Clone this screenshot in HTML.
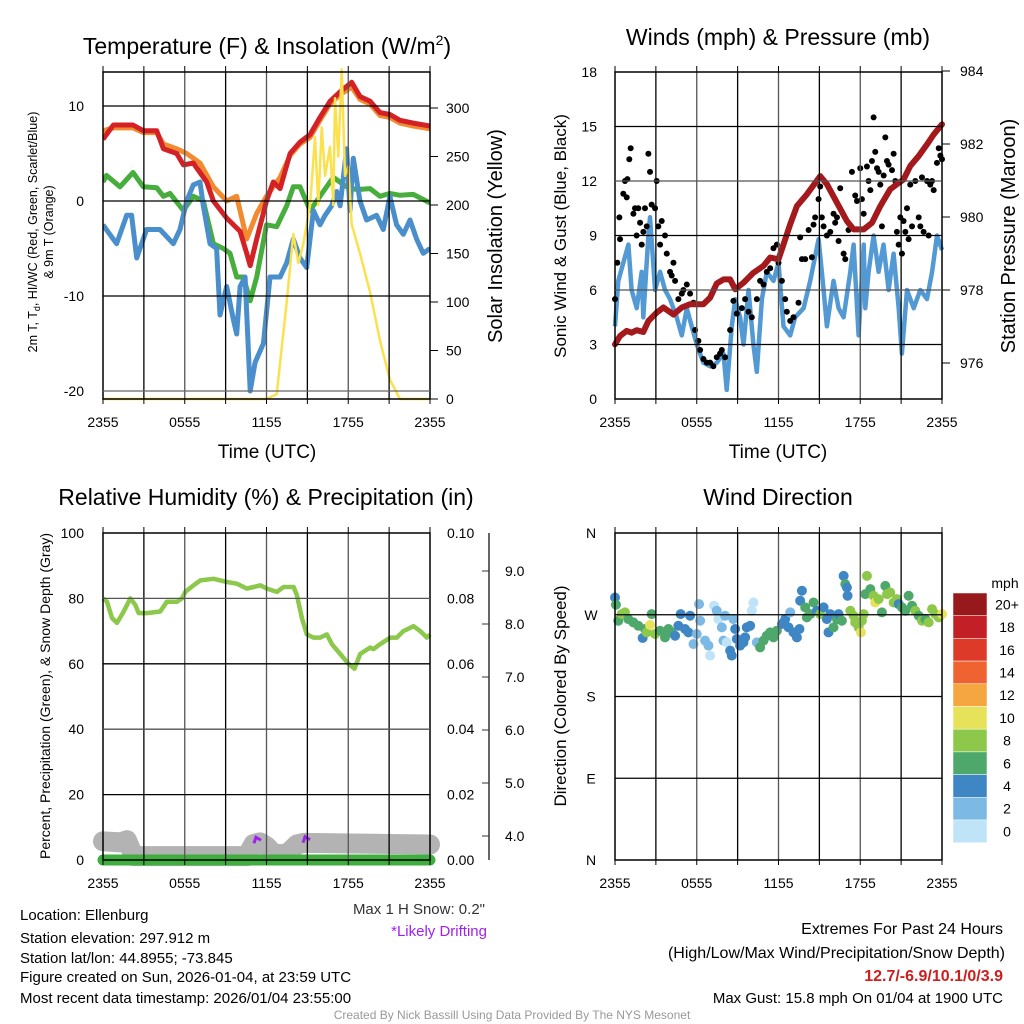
<!DOCTYPE html>
<html><head><meta charset="utf-8">
<style>
html,body{margin:0;padding:0;background:#fff;}
svg{display:block;font-family:"Liberation Sans",sans-serif;}
</style></head>
<body>
<svg id="chart" width="1024" height="1024" viewBox="0 0 1024 1024" xmlns="http://www.w3.org/2000/svg">
<rect x="0" y="0" width="1024" height="1024" fill="#fff"/>
<g id="layer-data"></g>
<g id="layer-axes"></g>

<text x="267" y="54" font-size="23" text-anchor="middle">Temperature (F) &amp; Insolation (W/m<tspan dy="-9" font-size="14">2</tspan><tspan dy="9">)</tspan></text>
<text x="778" y="45" font-size="23" text-anchor="middle">Winds (mph) &amp; Pressure (mb)</text>
<text x="266" y="505" font-size="23" text-anchor="middle">Relative Humidity (%) &amp; Precipitation (in)</text>
<text x="778" y="505" font-size="23" text-anchor="middle">Wind Direction</text>

<text x="267" y="458" font-size="19" text-anchor="middle">Time (UTC)</text>
<text x="778" y="458" font-size="19" text-anchor="middle">Time (UTC)</text>

<text transform="translate(37,232) rotate(-90)" font-size="12.5" text-anchor="middle">2m T, T<tspan font-size="9" dy="3">d</tspan><tspan dy="-3">, HI/WC (Red, Green, Scarlet/Blue)</tspan></text>
<text transform="translate(53,232) rotate(-90)" font-size="12.5" text-anchor="middle">&amp; 9m T (Orange)</text>
<text transform="translate(502,236) rotate(-90)" font-size="20" text-anchor="middle">Solar Insolation (Yellow)</text>
<text transform="translate(566,236) rotate(-90)" font-size="17" text-anchor="middle">Sonic Wind &amp; Gust (Blue, Black)</text>
<text transform="translate(1015,236) rotate(-90)" font-size="20" text-anchor="middle">Station Pressure (Maroon)</text>
<text transform="translate(50,696) rotate(-90)" font-size="14" text-anchor="middle">Percent, Precipitation (Green), &amp; Snow Depth (Gray)</text>
<text transform="translate(566,696) rotate(-90)" font-size="17" text-anchor="middle">Direction (Colored By Speed)</text>

<text x="1005" y="588" font-size="14" text-anchor="middle">mph</text>

<g font-size="15">
<text x="20" y="920">Location: Ellenburg</text>
<text x="20" y="943">Station elevation: 297.912 m</text>
<text x="20" y="963">Station lat/lon: 44.8955; -73.845</text>
<text x="20" y="982">Figure created on Sun, 2026-01-04, at 23:59 UTC</text>
<text x="20" y="1003">Most recent data timestamp: 2026/01/04 23:55:00</text>
</g>
<text x="485" y="914" font-size="15" text-anchor="end" fill="#333">Max 1 H Snow: 0.2"</text>
<text x="487" y="936" font-size="15" text-anchor="end" fill="#a020f0">*Likely Drifting</text>
<text x="1003" y="934" font-size="16" text-anchor="end">Extremes For Past 24 Hours</text>
<text x="1005" y="958" font-size="16" text-anchor="end">(High/Low/Max Wind/Precipitation/Snow Depth)</text>
<text x="1003" y="981" font-size="16" font-weight="bold" text-anchor="end" fill="#cc1f1f">12.7/-6.9/10.1/0/3.9</text>
<text x="1003" y="1003" font-size="15" text-anchor="end">Max Gust: 15.8 mph On 01/04 at 1900 UTC</text>
<text x="512" y="1019" font-size="12" text-anchor="middle" fill="#999">Created By Nick Bassill Using Data Provided By The NYS Mesonet</text>
</svg>

<script>
// ---------- data ----------
const xTickLabels = ["2355","0555","1155","1755","2355"];
const tempTicks = [-20,-10,0,10];
const solarTicks = [0,50,100,150,200,250,300];
const windTicks = [0,3,6,9,12,15,18];
const presTicks = [976,978,980,982,984];
const rhTicks = [0,20,40,60,80,100];
const precipTicks = ["0.00","0.02","0.04","0.06","0.08","0.10"];
const snowTicks = [4,5,6,7,8,9];
const dirTicks = ["N","E","S","W","N"];
const speedBins = ["0","2","4","6","8","10","12","14","16","18","20+"];
const speedColors = ["#bfe4f7","#7cb9e4","#3f86c5","#4ea86c","#8ec84b","#e6e35a","#f6a640","#ee6330","#dd3a2a","#c21f26","#98191b"];

const tHoursRed = [0,0.76,2.2,2.96,3.94,4.43,5.41,5.9,6.63,7.61,8.1,9.08,10.06,10.55,10.8,11.28,12.0,12.5,13.0,13.73,14.46,15.2,15.93,16.66,17.4,18.25,18.86,19.6,20.33,21.06,21.8,22.77,24];
const tempRed = [6.5,8,8,7.4,7.4,5.5,5,3.8,4,2,0,-1.8,-3.2,-5.5,-6.8,-4,0,2,1.3,5,6.2,7,8.8,10.5,11.5,12.5,11,10.5,9.3,9.1,8.5,8.2,7.9];
const tHoursOrange = [0,0.76,2.2,2.96,3.94,4.43,5.41,6.14,7.12,8.1,9.08,9.81,10.55,11.28,12.0,13.0,13.73,14.46,15.2,15.93,16.66,17.4,18.25,18.86,19.6,20.33,21.06,21.8,22.77,24];
const temp9m = [7.4,7.7,7.7,7.2,7.2,6,5.5,5,4,1.5,0,0.5,-4,-1.3,0.5,2.5,4.8,6,6.7,8.5,10.2,11.2,12,10.7,10.2,9,8.8,8.2,7.9,7.6];
const tHoursGreen = [0,0.26,1.25,2.2,2.96,3.94,4.43,4.92,5.9,6.63,7.36,8.1,8.83,9.32,9.81,10.3,10.8,11.28,12.0,12.75,13.48,13.97,14.46,15.2,16.17,16.9,17.88,18.62,19.6,20.33,21.06,21.8,22.77,24];
const tempGreen = [2,2.7,1.5,3,1.5,1.4,0.5,0.8,-1,0.5,0,-4.5,-5,-5.5,-8,-8,-10.5,-8,-2.5,-2.7,-0.5,1.5,1.5,-1,1,2.5,1.5,1.2,1.3,0.5,0.8,0.6,0.7,-0.2];
const tHoursBlue = [0,0.5,1.0,1.74,2.1,2.47,3.2,4.18,5.16,5.65,6.14,6.63,7.12,7.36,7.85,8.34,8.59,9.08,9.57,9.81,10.06,10.43,10.8,11.16,11.77,12.26,13.0,13.48,13.97,14.46,14.95,15.44,15.93,16.3,16.78,17.15,17.4,17.88,18.13,18.37,18.86,19.35,20.08,20.57,21.06,21.55,22.04,22.53,23.02,23.5,24];
const tempBlue = [-2.5,-3.5,-4.5,-1.5,-1.5,-6,-3,-3,-4.5,-3,0,1.7,2,-0.5,-4.5,-5,-12,-9,-12.5,-14,-9,-8,-20,-17,-15,-8,-8,-6.5,-4,-6,-7,-1,-2.5,-1.5,-0.5,1,-0.5,5.5,-1,4.5,0,-2,-1.5,-3,0.5,-2.5,-3.5,-2,-4,-5.5,-5];
const tHoursSolar = [0,12.0,12.75,13.48,13.97,14.34,14.7,15.2,15.56,15.8,16.05,16.3,16.66,16.9,17.03,17.27,17.52,17.76,18.0,18.25,18.86,19.6,20.33,21.06,21.8,24];
const solar = [0,0,5,100,170,140,160,200,270,200,280,230,260,200,310,250,340,230,240,180,150,110,60,20,0,0];

const wHours = [0,0.24,0.61,0.98,1.22,1.59,1.96,2.08,2.45,2.57,2.94,3.31,3.67,4.04,4.53,4.9,5.27,5.63,6.0,6.49,6.98,7.47,7.96,8.2,8.57,8.82,9.18,9.43,9.8,10.16,10.41,10.78,11.14,11.63,12.0,12.37,12.86,13.22,13.84,14.33,14.94,15.31,15.55,16.04,16.41,16.78,17.27,17.51,17.88,18.25,18.37,18.61,18.98,19.35,19.71,20.08,20.45,20.82,21.06,21.43,21.92,22.41,22.9,23.27,23.63,24];
const windSpeed = [4,6.5,7.5,8.5,6,5,7,4.5,9,10,6,7,6,5.5,4.5,3.5,5,4,3,2,1.8,2,2.5,0.5,4,5.5,4.5,3,6,3,1.5,5.5,7,6.5,7.5,4,3.5,4.5,5,6.5,8.8,6,4,6.5,5,4.5,7,8.5,3.5,8.5,5,7,9,7,8.5,6,8,5,2.5,6,5,6,5.5,7,9,8.2];
const gHours = [0,0.17,0.37,0.32,0.61,0.73,0.86,0.91,1.05,1.15,1.35,1.47,1.59,1.71,1.84,1.96,2.08,2.2,2.33,2.45,2.57,2.69,2.94,3.06,3.18,3.31,3.43,3.67,3.8,4.04,4.16,4.29,4.41,4.65,4.9,5.02,5.27,5.51,5.76,5.88,6.12,6.25,6.49,6.74,6.98,7.22,7.47,7.71,7.84,8.08,8.45,8.69,8.94,9.31,9.55,9.8,10.04,10.41,10.65,10.9,11.14,11.39,11.63,11.88,12.0,12.25,12.49,12.61,12.86,13.1,13.47,13.59,13.72,13.96,14.21,14.45,14.57,14.69,14.94,15.06,15.18,15.31,15.55,15.8,16.04,16.16,16.29,16.53,16.41,16.78,16.9,17.14,17.39,17.63,17.76,18.0,18.12,18.25,18.49,18.61,18.74,18.86,18.98,19.1,19.23,19.35,19.47,19.59,19.72,19.84,19.96,20.08,20.33,20.45,20.57,20.69,20.82,20.94,21.06,21.18,21.31,21.43,21.55,21.67,21.8,22.04,22.29,22.41,22.53,22.65,22.9,23.02,23.14,23.27,23.39,23.63,23.76,23.88,24];
const gustSpeed = [5.5,7.5,8.8,10.0,11.3,12.0,11.1,12.1,13.2,13.8,10.2,10.5,9.0,10.5,9.7,8.5,9.2,10.5,9.5,13.5,12.5,10.7,10.5,12.0,9.5,8.5,9.8,9.0,8.0,7.0,6.8,7.5,6.5,5.5,5.8,6.0,6.3,5.8,5.3,3.8,3.2,2.7,2.2,2.0,2.0,1.8,2.3,2.5,2.7,2.3,3.8,5.4,4.7,5.0,5.5,4.8,4.5,5.5,6.5,6.3,7.0,7.2,8.3,8.5,7.5,6.5,5.5,4.8,4.3,4.5,5.3,8.9,7.7,7.7,9.3,7.8,9.6,10.0,11.0,11.7,10.0,9.5,9.0,9.2,10.2,9.7,10.0,11.6,8.7,8.0,7.7,9.3,12.5,11.2,10.9,12.7,11.0,10.2,12.8,12.0,11.5,13.1,15.5,13.6,12.7,12.5,11.8,9.5,12.3,14.4,13.1,12.9,12.6,13.5,12.0,9.2,8.5,10.0,8.0,9.8,9.2,10.5,8.8,11.8,9.5,12.0,10.0,9.5,12.2,9.2,12.0,9.0,11.8,12.0,11.5,13.0,13.8,13.4,13.2];
const pHours = [0,0.37,0.86,1.22,1.59,2.08,2.45,3.06,3.55,4.29,4.9,5.51,6.49,6.98,7.47,7.96,8.45,8.82,9.43,10.16,10.9,11.39,12.0,12.37,12.86,13.35,14.08,15.06,15.55,16.29,17.02,17.51,18.25,18.86,19.47,20.2,20.69,21.18,21.67,22.29,22.9,23.39,24];
const pressure = [976.51,976.74,976.88,976.83,976.9,976.85,977.15,977.38,977.52,977.33,977.52,977.61,977.61,977.79,978.18,978.29,978.29,978.02,978.2,978.47,978.66,978.89,978.84,979.25,979.8,980.3,980.62,981.12,980.9,980.39,979.89,979.66,979.66,979.84,980.3,980.76,980.9,981.03,981.4,981.67,981.99,982.26,982.54];

const rhHours = [0,0.29,0.66,1.03,1.52,2.0,2.37,2.62,3.23,4.2,4.69,5.43,5.8,6.04,6.65,7.14,8.12,9.1,9.83,10.56,11.05,11.54,12.03,12.76,13.25,13.99,14.23,14.6,14.96,15.45,15.94,16.43,16.8,17.41,18.02,18.46,18.88,19.61,19.85,20.34,21.08,21.56,22.05,22.79,23.28,23.77,24];
const rh = [80,79,74,72.5,76,80,78,75.5,75.5,76,79,79,80,82,84,85.5,86,85,84.5,83,83.5,84,83,82,83.5,83.5,81,74,69,68,68,69,66,63,60,58.5,63,65,64.5,66,68,68,70,71.5,70,68,69];
const snowHours = [0,1.27,1.76,2.25,10.56,11.05,11.54,12.03,12.52,13.5,14.23,14.72,24];
const snowDepth = [3.9,3.88,3.92,3.62,3.62,3.85,3.88,3.8,3.66,3.66,3.84,3.87,3.84];
const precipHours = [0,24];
const precip = [0,0];
const driftHours = [11.3,14.9];
const driftDepth = [3.92,3.93];

const dHours = [0,0.07,0.24,0.49,0.73,0.98,1.35,1.71,2.03,2.2,2.33,2.57,2.94,2.69,3.31,3.67,3.92,4.16,4.41,4.65,4.82,5.14,5.51,5.39,5.76,6.0,6.17,6.25,6.61,6.86,6.98,7.27,7.47,7.59,7.84,7.96,8.08,8.2,8.45,8.57,8.69,8.82,8.94,9.18,9.43,9.55,9.67,9.92,10.04,10.16,10.41,10.65,10.9,11.14,11.39,11.63,11.88,12.25,12.49,12.74,12.86,13.1,13.35,13.54,13.59,13.72,13.96,14.08,14.33,14.57,14.82,15.06,15.31,15.55,15.67,15.8,16.04,16.29,16.41,16.65,16.78,16.9,17.02,17.07,17.27,17.51,17.63,17.88,18.05,18.12,18.25,18.37,18.49,18.74,18.98,19.1,19.35,19.59,19.84,19.96,20.2,20.45,20.69,20.82,21.06,21.31,21.55,21.8,22.04,22.29,22.53,22.78,23.02,23.27,23.51,23.76,24];
const dDir = [289,281,263.4,270.7,272.6,265.2,261.6,257.9,244.4,254.3,250.6,258.7,248.8,270.7,252.4,245.1,254.3,250.6,246.9,257.9,270.7,254.3,268.9,250.6,237.8,248.8,281.7,263.4,241.5,236,225,279.9,274.4,265.2,256.1,241.5,268.9,239.6,230.5,225,265.2,254.3,243.3,236,239.6,245.1,256.1,257.9,274.4,283.5,239.6,234.1,241.5,246.9,250.6,245.1,252.4,259.8,265.2,256.1,272.6,250.6,245.1,254.3,285.4,296.4,278.1,267.1,270.7,283.5,274.4,270.7,278.1,265.2,250.6,270.7,256.1,265.2,270.7,263.4,312.8,303.7,300,290.9,274.4,268.9,261.6,256.1,250.6,263.4,270.7,292.7,312.8,298.2,290.9,283.5,287.2,272.6,301.8,292.7,294.5,283.5,287.2,281.7,278.1,274.4,290.9,279.9,274.4,268.9,263.4,265.2,261.6,276.2,270.7,267.1,270.7];
const dSpeed = [4,6.5,6.5,8,8,6.5,6.5,6.5,4,6.5,8,10,8,6.5,6.5,6.5,6.5,6.5,4,4,4,4,4,4,2.5,2.5,2.5,2.5,2.5,2.5,1,1,2.5,1,2.5,2.5,2.5,1,4,4,2.5,4,4,4,4,4,4,4,1,1,2.5,6.5,6.5,6.5,6.5,6.5,6.5,4,4,4,2.5,4,4,4,4,4,6.5,6.5,6.5,6.5,4,8,4,4,4,4,6.5,6.5,4,6.5,4,6.5,4,4,8,8,8,8,10,8,8,6.5,8,6.5,8,10,8,6.5,6.5,8,8,8,8,4,6.5,6.5,6.5,6.5,8,6.5,8,6.5,8,8,8,8,10,8];

// ---------- helpers ----------
const NS = "http://www.w3.org/2000/svg";
const dataLayer = document.getElementById("layer-data");
const axesLayer = document.getElementById("layer-axes");
function mk(parent, tag, attrs){
  const e = document.createElementNS(NS, tag);
  for (const k in attrs) e.setAttribute(k, attrs[k]);
  parent.appendChild(e);
  return e;
}
function linScale(d0,d1,r0,r1){ return v => r0 + (v-d0)/(d1-d0)*(r1-r0); }
function pathFrom(xs, ys, sx, sy){
  let d = "";
  for (let i=0;i<xs.length;i++) d += (i?"L":"M") + sx(xs[i]).toFixed(1) + "," + sy(ys[i]).toFixed(1);
  return d;
}
function txt(parent, x, y, s, size, anchor){
  const t = mk(parent, "text", {x:x, y:y, "font-size":size, "text-anchor":anchor||"middle"});
  t.textContent = s;
  return t;
}

function frame(L,T,R,B,nameBase){
  const g = mk(axesLayer, "g", {});
  
  
  const xs = linScale(0,24,L,R);
  for (let h=0; h<=24; h+=3){
    if (h>0 && h<24){
      const l = mk(g, "line", {x1:xs(h), x2:xs(h), y1:T, y2:B, stroke:(h%6===0?"#555":"#000"), "stroke-width":1.3});
      
      
    }
    const tk = mk(g, "line", {x1:xs(h), x2:xs(h), y1:T-6, y2:T, stroke:"#000", "stroke-width":1});
    
    
    const bk = mk(g, "line", {x1:xs(h), x2:xs(h), y1:B, y2:B+5, stroke:"#000", "stroke-width":1});
    
    
  }
  const r = mk(g, "rect", {x:L, y:T, width:R-L, height:B-T, fill:"none", stroke:"#000", "stroke-width":1.5});
  
  
  xTickLabels.forEach((s,i)=>{
    const t = txt(g, xs(i*6), B+28, s, 14);
    
    
  });
  return {g, xs};
}
function hgrid(g, L, R, y, color, nameBase){
  const l = mk(g, "line", {x1:L, x2:R, y1:y, y2:y, stroke:color, "stroke-width":1.3});
  
  
}

// ---------- Panel 1: Temperature ----------
(function(){
  const L=103,T=72,R=430,B=399;
  const f = frame(L,T,R,B,"temp");
  const xs = f.xs;
  const ys = linScale(-20,10,391,106);
  const ss = linScale(0,300,399,108);
  tempTicks.forEach(v=>{
    hgrid(f.g, L, R, ys(v), v===-20?"#666":"#000", "temp");
    const t = txt(f.g, 84, ys(v)+5, String(v), 14, "end");
    
    
  });
  solarTicks.forEach(v=>{
    const tk = mk(f.g, "line", {x1:R, x2:R+8, y1:ss(v), y2:ss(v), stroke:"#000"});
    
    
    const t = txt(f.g, 446, ss(v)+5, String(v), 14, "start");
    
    
  });
  const clip = mk(dataLayer, "clipPath", {id:"clip1"});
  mk(clip, "rect", {x:L, y:T-10, width:R-L, height:B-T+12});
  const g = mk(dataLayer, "g", {"clip-path":"url(#clip1)"});
  const sOr = mk(g, "path", {d:pathFrom(tHoursOrange,temp9m,xs,ys), fill:"none", stroke:"#f28a30", "stroke-width":5, "stroke-linejoin":"round"});
  
  
  const sRed = mk(g, "path", {d:pathFrom(tHoursRed,tempRed,xs,ys), fill:"none", stroke:"#d42126", "stroke-width":5, "stroke-linejoin":"round"});
  
  
  const sGr = mk(g, "path", {d:pathFrom(tHoursGreen,tempGreen,xs,ys), fill:"none", stroke:"#47ad3c", "stroke-width":5, "stroke-linejoin":"round"});
  
  
  const sBl = mk(g, "path", {d:pathFrom(tHoursBlue,tempBlue,xs,ys), fill:"none", stroke:"#4a8fcb", "stroke-width":5, "stroke-linejoin":"round"});
  
  
  const sSo = mk(g, "path", {d:pathFrom(tHoursSolar,solar,xs,ss), fill:"none", stroke:"#fbe14e", "stroke-width":2.5, "stroke-linejoin":"round"});
  
  
})();

// ---------- Panel 2: Winds ----------
(function(){
  const L=615,T=72,R=942,B=399;
  const f = frame(L,T,R,B,"wind");
  const xs = f.xs;
  const ys = linScale(0,18,399,72);
  const ps = linScale(976,984,363,71);
  windTicks.forEach(v=>{
    if (v>0 && v<18) hgrid(f.g, L, R, ys(v), v%6===0?"#555":"#000", "wind");
    const t = txt(f.g, 597, ys(v)+5, String(v), 14, "end");
    
    
  });
  presTicks.forEach(v=>{
    const tk = mk(f.g, "line", {x1:R, x2:R+8, y1:ps(v), y2:ps(v), stroke:"#000"});
    
    
    const t = txt(f.g, 960, ps(v)+5, String(v), 14, "start");
    
    
  });
  const g = mk(dataLayer, "g", {});
  const sw = mk(g, "path", {d:pathFrom(wHours,windSpeed,xs,ys), fill:"none", stroke:"#5399d3", "stroke-width":4.5, "stroke-linejoin":"round"});
  
  
  gHours.forEach((h,i)=>{
    const c = mk(g, "circle", {cx:xs(h), cy:ys(gustSpeed[i]), r:3, fill:"#000"});
    
    
  });
  const sp = mk(g, "path", {d:pathFrom(pHours,pressure,xs,ps), fill:"none", stroke:"#a3191c", "stroke-width":6, "stroke-linejoin":"round", "stroke-linecap":"round"});
  
  
})();

// ---------- Panel 3: RH ----------
(function(){
  const L=103,T=533,R=430,B=860;
  const f = frame(L,T,R,B,"rh");
  const xs = f.xs;
  const ys = linScale(0,100,860,533);
  const sn = linScale(4,9,836,571);
  rhTicks.forEach((v,i)=>{
    if (v>0 && v<100) hgrid(f.g, L, R, ys(v), v===40||v===80?"#555":"#000", "rh");
    const t = txt(f.g, 84, ys(v)+5, String(v), 14, "end");
    
    
    const t2 = txt(f.g, 447, ys(v)+5, precipTicks[i], 14, "start");
    
    
  });
  const ax = mk(f.g, "line", {x1:489, x2:489, y1:533, y2:860, stroke:"#333", "stroke-width":1.5});
  
  
  snowTicks.forEach(v=>{
    const tk = mk(f.g, "line", {x1:482, x2:489, y1:sn(v), y2:sn(v), stroke:"#333"});
    
    
    const t = txt(f.g, 505, sn(v)+5, v.toFixed(1), 14, "start");
    
    
  });
  const g = mk(dataLayer, "g", {});
  const ssn = mk(g, "path", {d:pathFrom(snowHours,snowDepth,xs,sn), fill:"none", stroke:"#b3b3b3", "stroke-width":20, "stroke-linejoin":"round", "stroke-linecap":"round"});
  
  
  const pr = mk(g, "path", {d:pathFrom(precipHours,precip,xs,ys), fill:"none", stroke:"#3fae3f", "stroke-width":11, "stroke-linecap":"round"});
  
  
  driftHours.forEach((h,i)=>{
    const c = mk(g, "path", {d:"M"+(xs(h)-3)+","+(sn(driftDepth[i])+3)+"l2,-6l5,3", fill:"none", stroke:"#a020f0", "stroke-width":3});
    
    
  });
  const srh = mk(g, "path", {d:pathFrom(rhHours,rh,xs,ys), fill:"none", stroke:"#8cc84b", "stroke-width":4.5, "stroke-linejoin":"round"});
  
  
})();

// ---------- Panel 4: Wind Direction ----------
(function(){
  const L=615,T=533,R=942,B=860;
  const f = frame(L,T,R,B,"dir");
  const xs = f.xs;
  const ds = linScale(0,360,860,533);
  dirTicks.forEach((s,i)=>{
    const v = i*90;
    if (v>0 && v<360) hgrid(f.g, L, R, ds(v), "#000", "dir");
    const t = txt(f.g, 591, ds(v)+5, s, 14);
    
    
  });
  const g = mk(dataLayer, "g", {});
  dHours.forEach((h,i)=>{
    const bin = Math.min(10, Math.floor(dSpeed[i]/2));
    const c = mk(g, "circle", {cx:xs(h), cy:ds(dDir[i]), r:5, fill:speedColors[bin]});
    
    
  });
  const cb = mk(axesLayer, "g", {});
  
  
  const top=593, h=22.7;
  speedBins.forEach((s,i)=>{
    const k = speedBins.length-1-i;
    const r = mk(cb, "rect", {x:953, y:top+i*h, width:34, height:h, fill:speedColors[k], stroke:"#fff", "stroke-width":0.5});
    
    
    const t = txt(cb, 1007, top+i*h+h/2+5, speedBins[k], 14);
    
    
  });
})();
</script>
</body></html>
